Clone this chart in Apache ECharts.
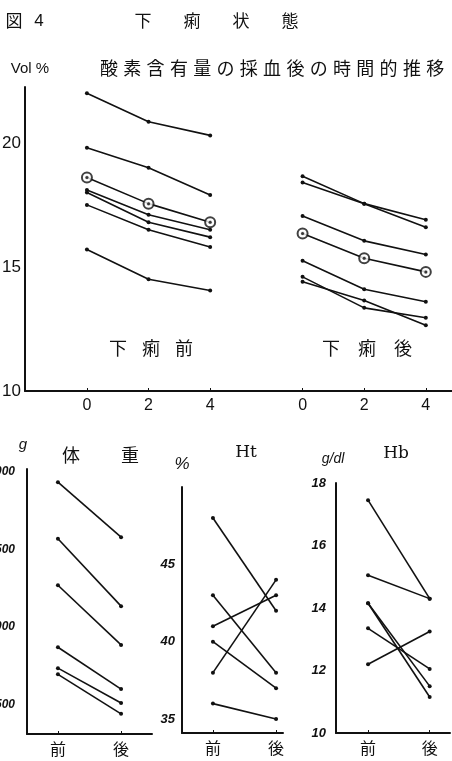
<!doctype html>
<html>
<head>
<meta charset="UTF-8" />
<title>図4 下痢状態</title>
<script src="https://cdn.jsdelivr.net/npm/echarts@6/dist/echarts.min.js"></script>
<style>html,body{margin:0;background:#fff}#main{width:452px;height:761px}</style>
</head>
<body>
<div id="main"></div>
<script>
  // O2 content (Vol%) at 0, 2, 4 h after sampling
  const timeTicks = [0, 2, 4];
  const afterOffset = 7; // second group is drawn 7 units to the right
  const o2Before = [
    [22.0, 20.85, 20.3],
    [19.8, 19.0, 17.9],
    [18.6, 17.55, 16.8],
    [18.1, 17.1, 16.5],
    [18.0, 16.8, 16.2],
    [17.5, 16.5, 15.8],
    [15.7, 14.5, 14.05]
  ];
  const o2After = [
    [18.65, 17.55, 16.6],
    [18.4, 17.55, 16.9],
    [17.05, 16.05, 15.5],
    [16.35, 15.35, 14.8],
    [15.25, 14.1, 13.6],
    [14.6, 13.35, 12.95],
    [14.4, 13.65, 12.65]
  ];
  const circledBefore = 2;
  const circledAfter = 3;

  const phases = ['前', '後'];
  const weightBefore = [2935, 2570, 2270, 1870, 1735, 1695];
  const weightAfter = [2580, 2135, 1885, 1600, 1510, 1440];
  const htBefore = [48, 43, 41, 40, 38, 36];
  const htAfter = [42, 38, 43, 37, 44, 35];
  const hbBefore = [17.45, 15.05, 14.15, 14.15, 13.35, 12.2];
  const hbAfter = [14.3, 14.3, 11.5, 11.15, 12.05, 13.25];

  const ink = '#111';
  const cjk = '"Noto Sans CJK JP", sans-serif';
  const num = '"Liberation Sans Narrow", "Liberation Sans", sans-serif';

  function lineSeries(data, g) {
    return {
      type: 'line', xAxisIndex: g, yAxisIndex: g, data: data,
      symbol: 'circle', symbolSize: 4, silent: true, z: 2,
      lineStyle: { color: ink, width: 1.6 }, itemStyle: { color: ink }
    };
  }
  function ringSeries(data, g) {
    return [{
      type: 'scatter', xAxisIndex: g, yAxisIndex: g, data: data, z: 3,
      symbol: 'emptyCircle', symbolSize: 10, silent: true,
      itemStyle: { color: ink, borderWidth: 1.4 }
    }, {
      type: 'scatter', xAxisIndex: g, yAxisIndex: g, data: data, z: 4,
      symbol: 'circle', symbolSize: 3, silent: true, itemStyle: { color: ink }
    }];
  }

  const series = [];
  o2Before.forEach((row, i) => {
    const d = row.map((v, j) => [timeTicks[j], v]);
    series.push(lineSeries(d, 0));
    if (i === circledBefore) series.push(...ringSeries(d, 0));
  });
  o2After.forEach((row, i) => {
    const d = row.map((v, j) => [timeTicks[j] + afterOffset, v]);
    series.push(lineSeries(d, 0));
    if (i === circledAfter) series.push(...ringSeries(d, 0));
  });
  weightBefore.forEach((v, i) => series.push(lineSeries([[0, v], [1, weightAfter[i]]], 1)));
  htBefore.forEach((v, i) => series.push(lineSeries([[0, v], [1, htAfter[i]]], 2)));
  hbBefore.forEach((v, i) => series.push(lineSeries([[0, v], [1, hbAfter[i]]], 3)));

  const numLabel = { fontSize: 16, fontFamily: num, color: ink };
  const phaseLabel = { fontSize: 16, fontFamily: cjk, color: ink };
  const tickLabel = { fontSize: 13, fontStyle: 'italic', fontWeight: 'bold', fontFamily: num, color: ink };
  const weightLabel = Object.assign({}, tickLabel, { fontSize: 12 });

  function xAx(g, min, max, ticks, fmt, lab) {
    return {
      type: 'value', gridIndex: g, min: min, max: max,
      axisLine: { show: true, onZero: false, lineStyle: { color: ink, width: 2 } },
      axisTick: { show: true, inside: true, length: 3, customValues: ticks, lineStyle: { color: ink } },
      axisLabel: Object.assign({ customValues: ticks, formatter: fmt, margin: 7 }, lab),
      splitLine: { show: false }
    };
  }
  function yAx(g, min, max, ticks, lab, margin) {
    return {
      type: 'value', gridIndex: g, min: min, max: max,
      axisLine: { show: true, onZero: false, lineStyle: { color: ink, width: 2 } },
      axisTick: { show: false },
      axisLabel: Object.assign({ customValues: ticks, margin: margin, formatter: v => String(v) }, lab),
      splitLine: { show: false }
    };
  }
  const phaseFmt = v => phases[v];

  function txt(t, x, y, font) {
    return { type: 'text', x: x, y: y, style: { text: t, font: font, fill: ink, align: 'center', verticalAlign: 'middle' } };
  }
  function spaced(chars, x0, pitch, y, font) {
    return chars.split('').map((c, i) => txt(c, x0 + i * pitch, y, font));
  }

  const graphic = [].concat(
    [txt('図', 14, 21, '17px ' + cjk), txt('4', 39, 21, '17px ' + num)],
    spaced('下痢状態', 143, 49, 21, '17px ' + cjk),
    [txt('Vol %', 30, 69, '15px ' + num)],
    spaced('酸素含有量の採血後の時間的推移', 109, 23.3, 68, '18px ' + cjk),
    spaced('下痢前', 118, 33, 348, '18px ' + cjk),
    spaced('下痢後', 331, 36, 348, '18px ' + cjk),
    [txt('g', 23, 445, 'italic 15px ' + num)],
    spaced('体重', 71, 59, 455, '18px ' + cjk),
    [txt('%', 182, 464, 'italic 17px ' + num)],
    [txt('Ht', 246, 453, '17px "DejaVu Serif", serif')],
    [txt('g/dl', 333, 459, 'italic 14px ' + num)],
    [txt('Hb', 396, 454, '17px "DejaVu Serif", serif')]
  );

  const chart = echarts.init(document.getElementById('main'), null, { renderer: 'canvas' });
  chart.setOption({
    animation: false,
    backgroundColor: '#fff',
    grid: [
      { left: 25, top: 87, width: 427, height: 304, outerBoundsMode: 'none' },
      { left: 27, top: 469, width: 125, height: 265, outerBoundsMode: 'none' },
      { left: 182, top: 487, width: 101, height: 246, outerBoundsMode: 'none' },
      { left: 336, top: 483, width: 114, height: 250, outerBoundsMode: 'none' }
    ],
    xAxis: [
      xAx(0, -2.01, 11.85, [0, 2, 4, 7, 9, 11], v => String(v >= afterOffset ? v - afterOffset : v), numLabel),
      xAx(1, -0.49, 1.49, [0, 1], phaseFmt, phaseLabel),
      xAx(2, -0.49, 1.11, [0, 1], phaseFmt, phaseLabel),
      xAx(3, -0.52, 1.33, [0, 1], phaseFmt, phaseLabel)
    ],
    yAxis: [
      yAx(0, 10, 22.25, [10, 15, 20], { fontSize: 17, fontFamily: num, color: ink }, 4),
      yAx(1, 1310, 3020, [1500, 2000, 2500, 3000], weightLabel, 12),
      yAx(2, 34.1, 50, [35, 40, 45], tickLabel, 7),
      yAx(3, 10, 18, [10, 12, 14, 16, 18], tickLabel, 10)
    ],
    series: series,
    graphic: graphic
  });
</script>
</body>
</html>
